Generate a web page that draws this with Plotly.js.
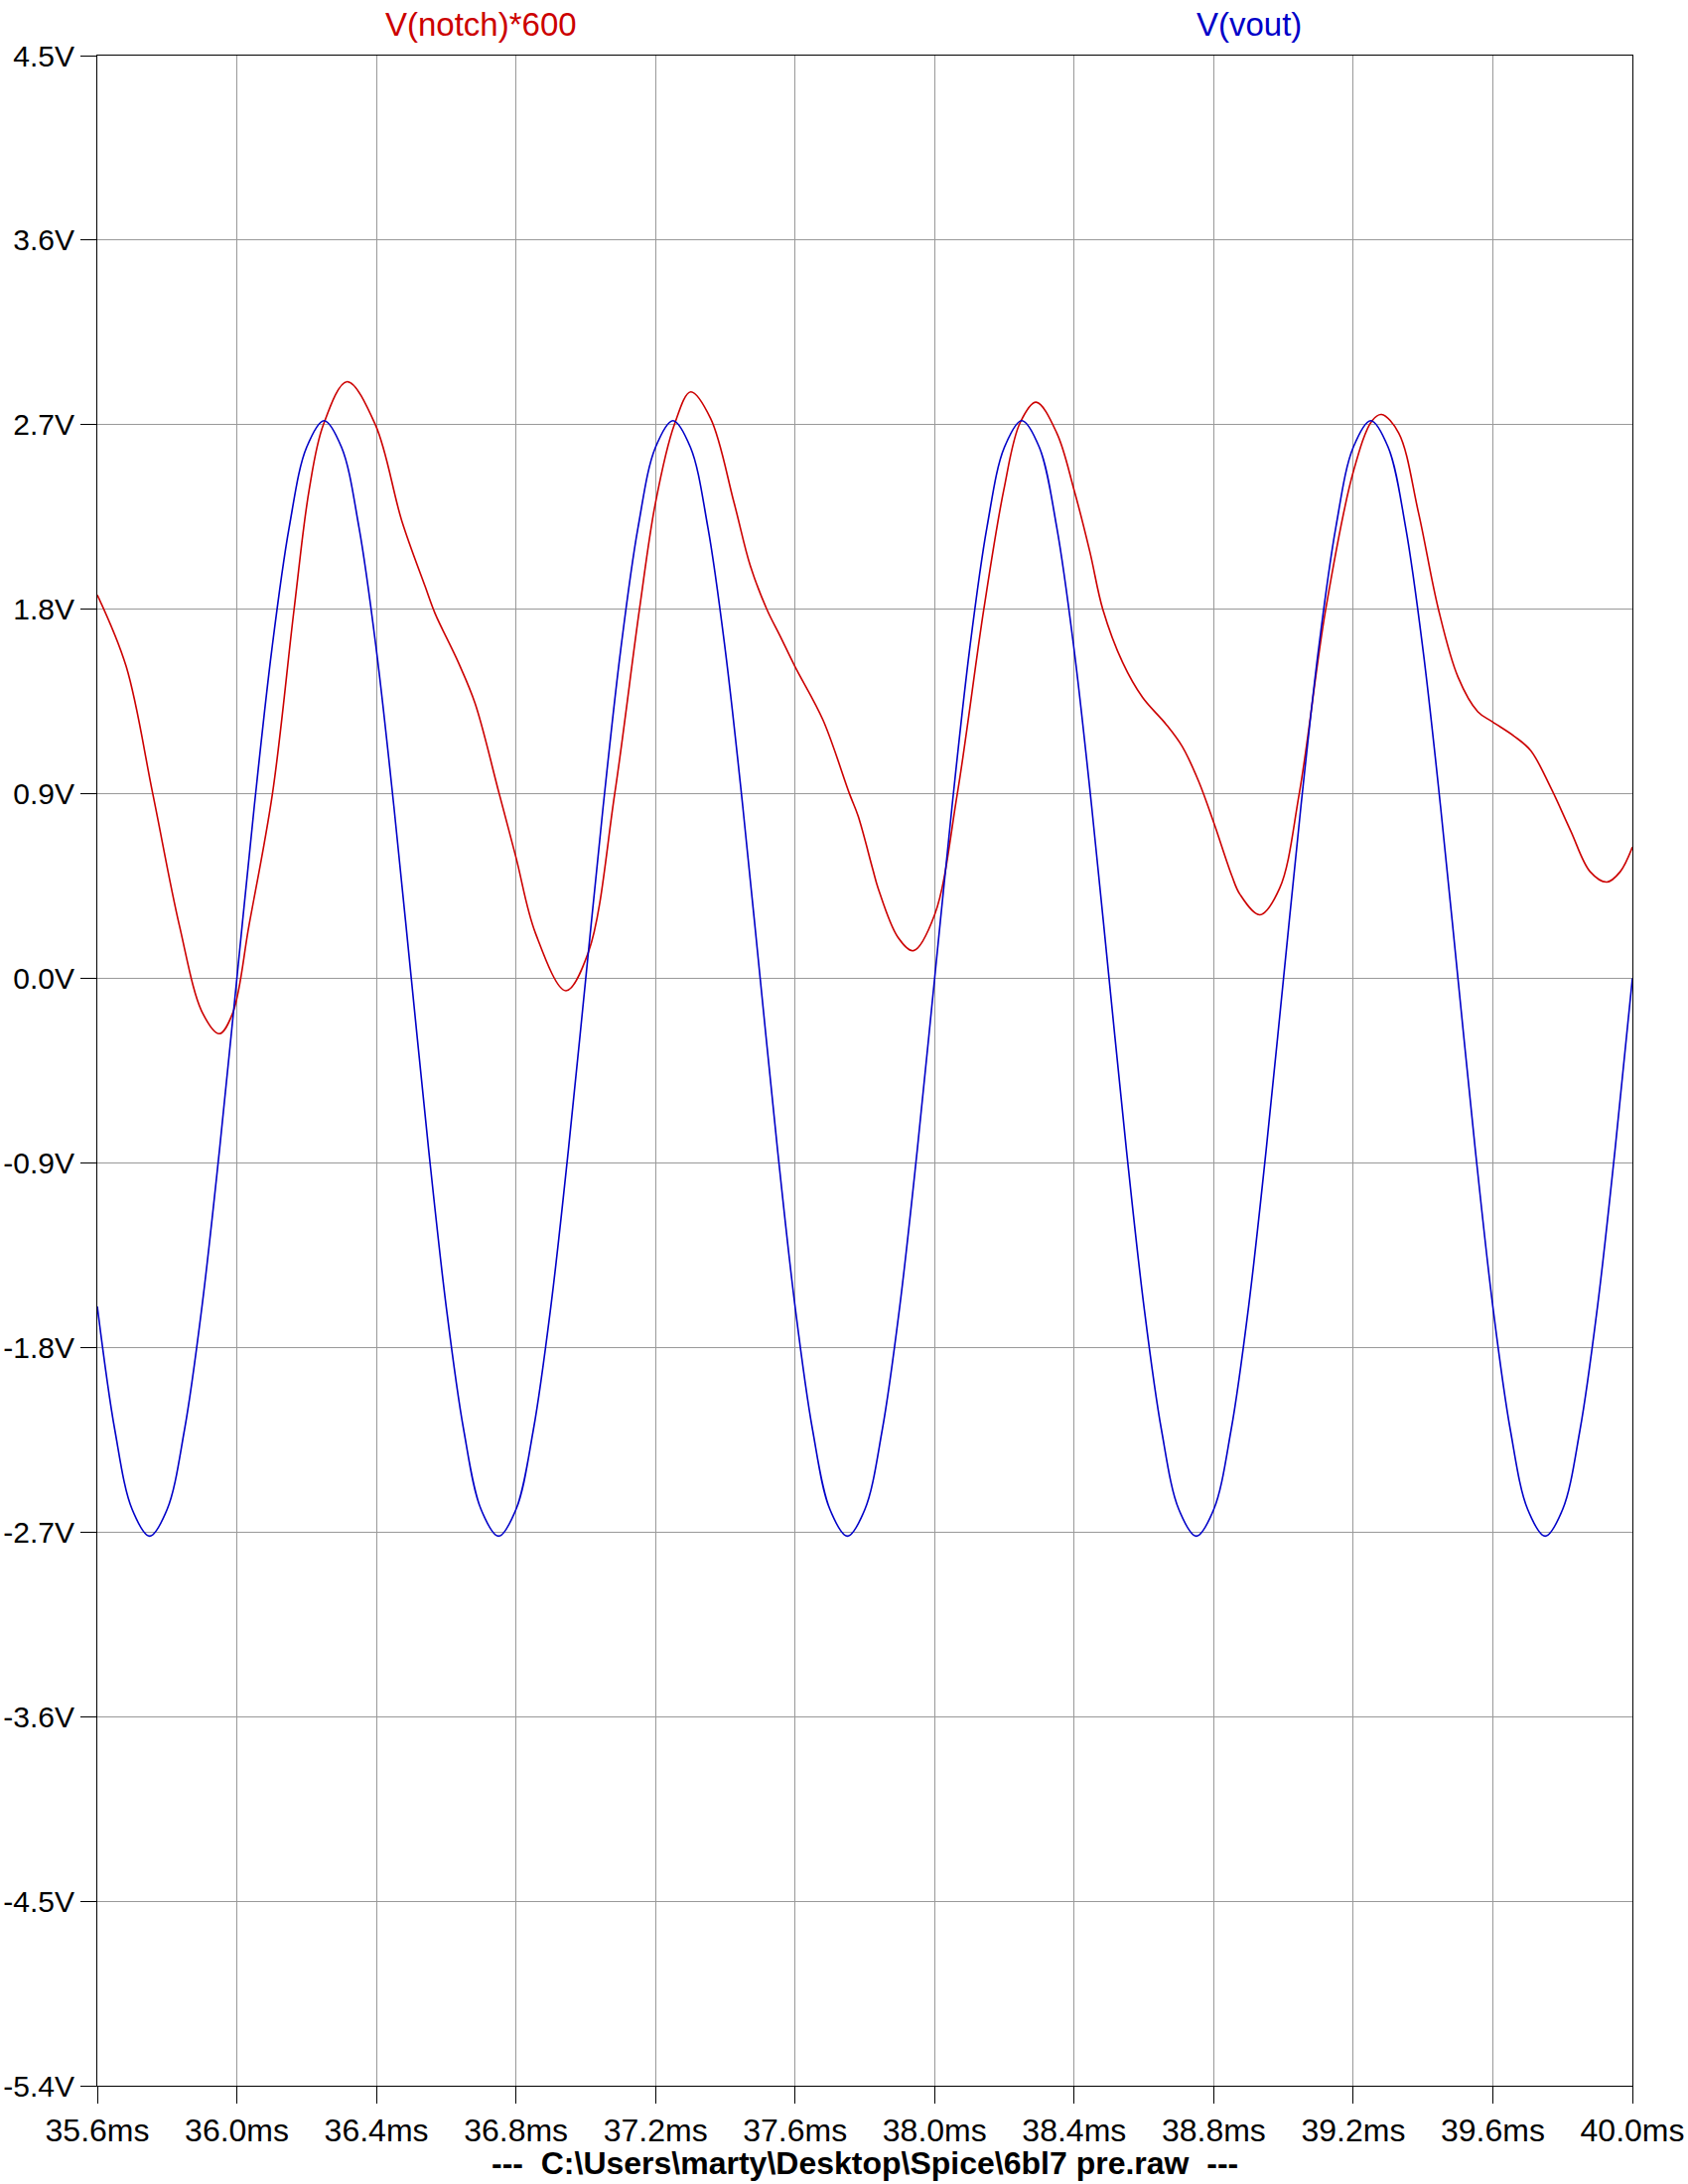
<!DOCTYPE html>
<html>
<head>
<meta charset="utf-8">
<script src="https://cdn.plot.ly/plotly-3.0.1.min.js"></script>
<style>html,body{margin:0;padding:0;background:#fff;}#chart{width:1700px;height:2200px;}</style>
</head>
<body>
<div id="chart"></div>
<script>
// ---- data ----
const timeTicks = [35.6, 36.0, 36.4, 36.8, 37.2, 37.6, 38.0, 38.4, 38.8, 39.2, 39.6, 40.0];
const timeTickText = ["35.6ms","36.0ms","36.4ms","36.8ms","37.2ms","37.6ms","38.0ms","38.4ms","38.8ms","39.2ms","39.6ms","40.0ms"];
const voltTicks = [4.5, 3.6, 2.7, 1.8, 0.9, 0.0, -0.9, -1.8, -2.7, -3.6, -4.5, -5.4];
const voltTickText = ["4.5V","3.6V","2.7V","1.8V","0.9V","0.0V","-0.9V","-1.8V","-2.7V","-3.6V","-4.5V","-5.4V"];

const voutT = [35.60,35.65,35.70,35.75,35.80,35.85,35.90,35.95,
  36.00,36.05,36.10,36.15,36.20,36.25,36.30,36.35,36.40,36.45,36.50,36.55,36.60,36.65,36.70,36.75,36.80,36.85,36.90,36.95,
  37.00,37.05,37.10,37.15,37.20,37.25,37.30,37.35,37.40,37.45,37.50,37.55,37.60,37.65,37.70,37.75,37.80,37.85,37.90,37.95,
  38.00,38.05,38.10,38.15,38.20,38.25,38.30,38.35,38.40,38.45,38.50,38.55,38.60,38.65,38.70,38.75,38.80,38.85,38.90,38.95,
  39.00,39.05,39.10,39.15,39.20,39.25,39.30,39.35,39.40,39.45,39.50,39.55,39.60,39.65,39.70,39.75,39.80,39.85,39.90,39.95,
  40.00];
const voutV = [-1.60,-2.20,-2.59,-2.72,-2.59,-2.20,-1.60,-0.84,
  0.00,0.84,1.60,2.20,2.59,2.72,2.59,2.20,1.60,0.84,0.00,-0.84,-1.60,-2.20,-2.59,-2.72,-2.59,-2.20,-1.60,-0.84,
  0.00,0.84,1.60,2.20,2.59,2.72,2.59,2.20,1.60,0.84,0.00,-0.84,-1.60,-2.20,-2.59,-2.72,-2.59,-2.20,-1.60,-0.84,
  0.00,0.84,1.60,2.20,2.59,2.72,2.59,2.20,1.60,0.84,0.00,-0.84,-1.60,-2.20,-2.59,-2.72,-2.59,-2.20,-1.60,-0.84,
  0.00,0.84,1.60,2.20,2.59,2.72,2.59,2.20,1.60,0.84,0.00,-0.84,-1.60,-2.20,-2.59,-2.72,-2.59,-2.20,-1.60,-0.84,
  0.00];

const notchT = [35.600,35.683,35.759,35.835,35.902,35.950,35.988,36.035,36.102,36.164,36.207,36.248,36.316,36.397,36.473,
  36.540,36.568,36.635,36.683,36.752,36.800,36.856,36.943,37.008,37.083,37.154,37.200,37.254,37.301,37.358,37.425,
  37.472,37.519,37.557,37.600,37.680,37.756,37.781,37.823,37.838,37.895,37.939,38.000,38.065,38.141,38.198,38.245,38.291,
  38.350,38.400,38.445,38.482,38.539,38.596,38.663,38.710,38.757,38.800,38.852,38.875,38.932,38.989,39.045,39.121,39.200,
  39.254,39.281,39.330,39.387,39.444,39.500,39.557,39.600,39.662,39.709,39.766,39.823,39.879,39.927,39.965,40.000];
const notchV = [1.87,1.52,0.90,0.26,-0.17,-0.27,-0.17,0.26,0.90,1.80,2.38,2.70,2.91,2.70,2.23,
  1.91,1.78,1.54,1.34,0.90,0.59,0.22,-0.06,0.13,0.90,1.80,2.32,2.70,2.86,2.73,2.32,
  2.01,1.80,1.67,1.52,1.26,0.90,0.79,0.53,0.44,0.20,0.135,0.31,0.90,1.80,2.38,2.71,2.81,
  2.66,2.38,2.08,1.80,1.54,1.37,1.24,1.13,0.96,0.76,0.50,0.41,0.31,0.44,0.90,1.80,2.47,
  2.72,2.75,2.66,2.27,1.80,1.47,1.30,1.25,1.18,1.11,0.93,0.72,0.52,0.47,0.52,0.64];

const notchName = "V(notch)*600";
const voutName = "V(vout)";
const fileLabel = "---  C:\\Users\\marty\\Desktop\\Spice\\6bl7 pre.raw  ---";

// ---- styling ----
const FONT = "'Liberation Sans', Arial, sans-serif";
const RED = "#cc0000";
const BLUE = "#0000c8";

const traces = [
  {x: notchT, y: notchV, type: "scatter", mode: "lines", name: notchName,
   line: {color: RED, width: 1.6, shape: "spline", smoothing: 1.0}},
  {x: voutT, y: voutV, type: "scatter", mode: "lines", name: voutName,
   line: {color: BLUE, width: 1.6, shape: "spline", smoothing: 1.0}}
];

const axisCommon = {
  showline: true, linecolor: "#000", linewidth: 1, mirror: true,
  showgrid: true, gridcolor: "#999999", gridwidth: 1,
  zeroline: false, ticks: "outside", ticklen: 16, tickcolor: "#000", tickwidth: 1,
  tickfont: {family: FONT, size: 31, color: "#000"}, tickmode: "array",
  ticklabeloverflow: "allow"
};

const layout = {
  width: 1700, height: 2200,
  margin: {l: 98, r: 56, t: 56, b: 99},
  paper_bgcolor: "#fff", plot_bgcolor: "#fff",
  showlegend: false,
  font: {family: FONT, size: 31, color: "#000"},
  xaxis: Object.assign({}, axisCommon, {range: [35.6, 40.0], tickvals: timeTicks, ticktext: timeTickText,
    ticklen: 17, tickfont: {family: FONT, size: 32, color: "#000"}}),
  yaxis: Object.assign({}, axisCommon, {range: [-5.4, 4.5], tickvals: voltTicks, ticktext: voltTickText,
    ticklabelstandoff: 0, tickfont: {family: FONT, size: 30, color: "#000"}}),
  annotations: [
    {text: notchName, xref: "paper", yref: "paper", x: 0.25, y: 1, xanchor: "center", yanchor: "middle",
     yshift: 32, showarrow: false, font: {family: FONT, size: 33, color: RED}},
    {text: voutName, xref: "paper", yref: "paper", x: 0.75, y: 1, xanchor: "center", yanchor: "middle",
     yshift: 32, showarrow: false, font: {family: FONT, size: 33, color: BLUE}},
    {text: "<b>" + fileLabel.replace(/ /g, "&nbsp;") + "</b>", xref: "paper", yref: "paper", x: 0.5, y: 0,
     xanchor: "center", yanchor: "middle", yshift: -78, showarrow: false,
     font: {family: FONT, size: 32, color: "#000"}}
  ]
};

Plotly.newPlot("chart", traces, layout, {staticPlot: true, displayModeBar: false});
</script>
</body>
</html>
